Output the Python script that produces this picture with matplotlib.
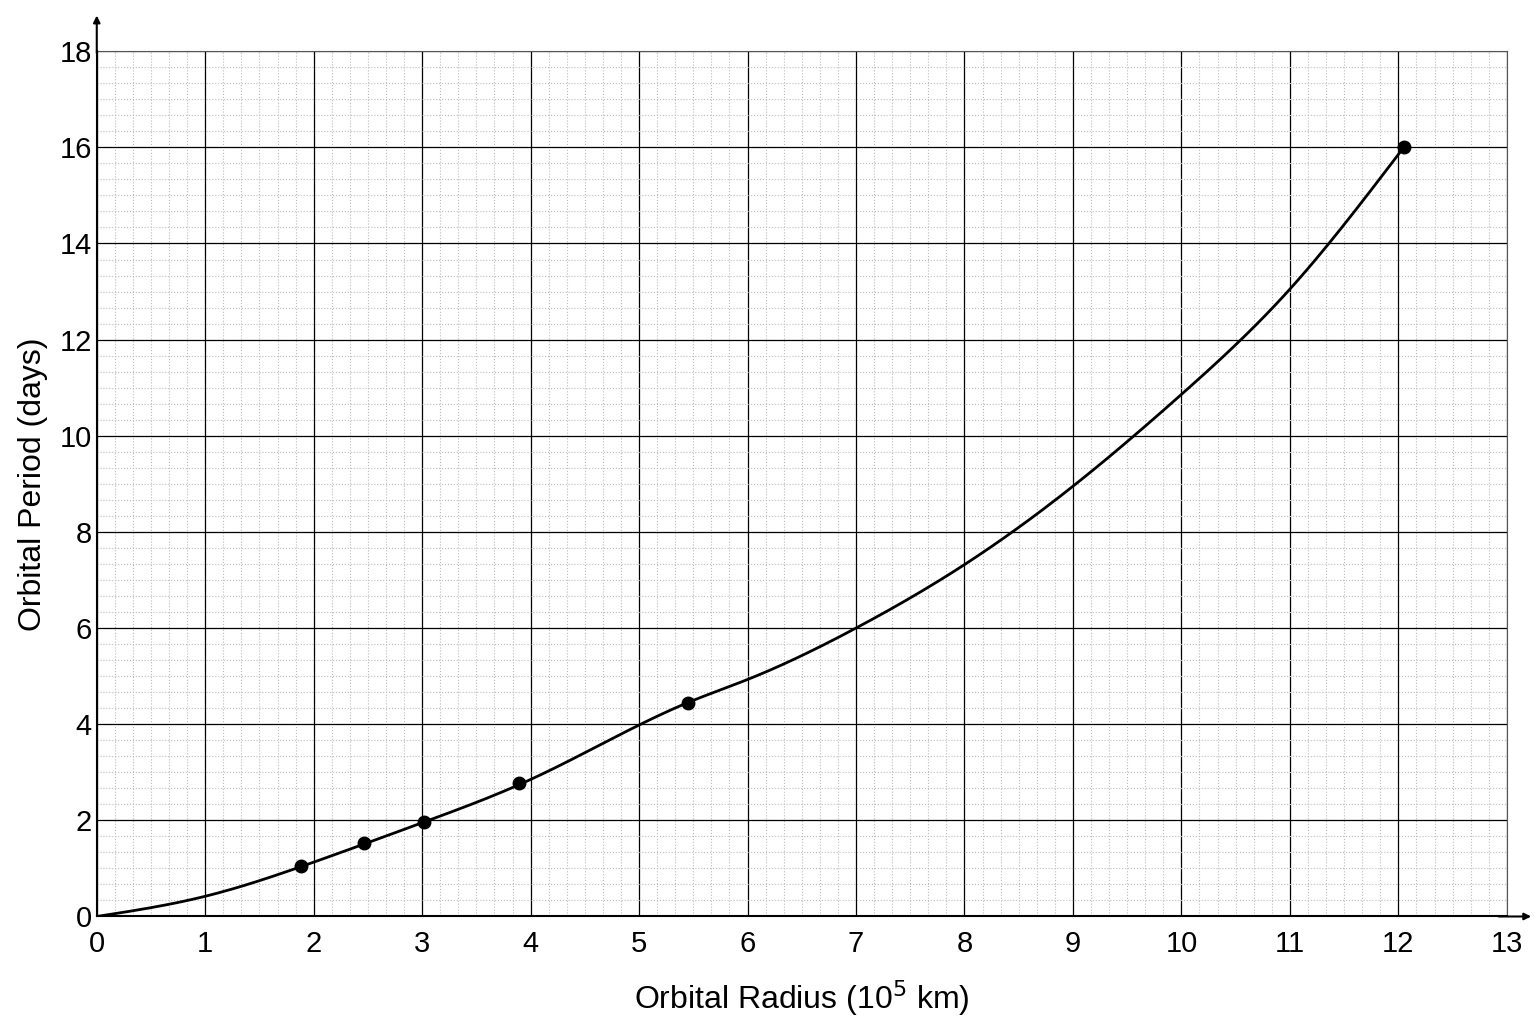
import numpy as np
import matplotlib.pyplot as plt
from matplotlib.ticker import MultipleLocator

plt.rcParams['font.family'] = ['Liberation Sans', 'DejaVu Sans']

# measured points
radius = [1.88, 2.46, 3.02, 3.89, 5.45, 12.05]
period = [1.05, 1.52, 1.97, 2.77, 4.45, 16.0]

# curve
curve_x = [0, 1, 2, 3, 4, 5.45, 6, 7, 8, 9, 10, 11, 12.05]
curve_y = [0, 0.42, 1.13, 1.95, 2.85, 4.45, 4.93, 6.0, 7.32, 8.95, 10.86, 13.05, 16.0]


def natural_spline(x, y, xs):
    x = np.asarray(x, float)
    y = np.asarray(y, float)
    n = len(x)
    h = np.diff(x)
    A = np.zeros((n, n))
    b = np.zeros(n)
    A[0, 0] = A[-1, -1] = 1
    for i in range(1, n - 1):
        A[i, i - 1] = h[i - 1]
        A[i, i] = 2 * (h[i - 1] + h[i])
        A[i, i + 1] = h[i]
        b[i] = 6 * ((y[i + 1] - y[i]) / h[i] - (y[i] - y[i - 1]) / h[i - 1])
    m = np.linalg.solve(A, b)
    idx = np.clip(np.searchsorted(x, xs) - 1, 0, n - 2)
    t0 = x[idx + 1] - xs
    t1 = xs - x[idx]
    hi = h[idx]
    return (m[idx] * t0**3 / (6 * hi) + m[idx + 1] * t1**3 / (6 * hi)
            + (y[idx] / hi - m[idx] * hi / 6) * t0
            + (y[idx + 1] / hi - m[idx + 1] * hi / 6) * t1)


fig = plt.figure(figsize=(15.36, 10.24), dpi=100)
ax = fig.add_axes([0.063, 0.105, 0.918, 0.845])

xs = np.linspace(0, 12.05, 400)
ax.plot(xs, natural_spline(curve_x, curve_y, xs), color='black', linewidth=2)
ax.plot(radius, period, 'o', color='black', markersize=9)

ax.set_xlim(0, 13)
ax.set_ylim(0, 18)
ax.xaxis.set_major_locator(MultipleLocator(1))
ax.yaxis.set_major_locator(MultipleLocator(2))
ax.xaxis.set_minor_locator(MultipleLocator(1 / 6))
ax.yaxis.set_minor_locator(MultipleLocator(1 / 3))
ax.grid(which='major', color='black', linewidth=0.9)
ax.grid(which='minor', color='#bbbbbb', linestyle=':', linewidth=0.8)
ax.set_axisbelow(True)
ax.tick_params(which='both', length=0, labelsize=21)
ax.tick_params(axis='x', pad=10)

for s in ['top', 'right']:
    ax.spines[s].set_color('#555555')
    ax.spines[s].set_linewidth(0.8)
for s in ['left', 'bottom']:
    ax.spines[s].set_linewidth(1.5)

# arrows on axes
ax.annotate('', xy=(13.25, 0), xytext=(12.9, 0), annotation_clip=False,
            arrowprops=dict(arrowstyle='-|>', color='black', lw=1.5))
ax.annotate('', xy=(0, 18.8), xytext=(0, 17.9), annotation_clip=False,
            arrowprops=dict(arrowstyle='-|>', color='black', lw=1.5))

ax.set_xlabel('Orbital Radius (10$^5$ km)', fontsize=23, labelpad=14)
ax.set_ylabel('Orbital Period (days)', fontsize=23, labelpad=8)

plt.savefig('out.png')
